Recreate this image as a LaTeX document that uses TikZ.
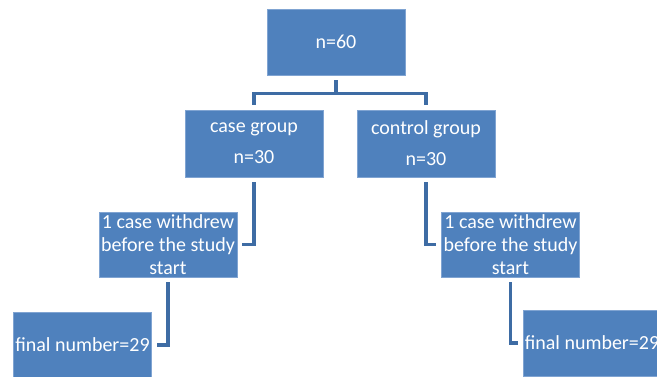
\documentclass[tikz,border=0pt]{standalone}
\usepackage{fontspec}
\setmainfont{Carlito}
\definecolor{boxblue}{RGB}{79,129,189}
\definecolor{boxedge}{RGB}{128,164,210}
\definecolor{linkblue}{RGB}{62,108,164}

\begin{document}
\begin{tikzpicture}[%
      x=1pt, y=-1pt,
      box/.style={fill=boxblue, draw=boxedge, line width=0.6pt,
        minimum width=138pt, minimum height=66pt, inner sep=0pt,
        text=white, align=center, font=\fontsize{20}{23}\selectfont},
      link/.style={draw=linkblue, line width=3.6pt,
        shorten <=5pt, shorten >=5pt},
      ]
      \useasboundingbox (0,0) rectangle (657,376);
      \clip (0,0) rectangle (657,376);

      \node [box] (top) at (336,42) {n=60};
      \node [box, minimum height=67pt] (case) at (254,143.5) {case group\\[8pt]n=30};
      \node [box, minimum height=67pt] (control) at (426,143.5) {control group\\[8pt]n=30};
      \node [box, minimum height=65pt] (wdcase) at (168,244.5)
            {1 case withdrew\\before the study\\start};
      \node [box, minimum height=65pt] (wdcontrol) at (510.5,244.5)
            {1 case withdrew\\before the study\\start};
      \node [box] (fincase) at (82.5,345) {final number=29};
      \node [box] (fincontrol) at (592,343) {final number=29};

      \draw [link] (top.south) -- ++(0,18) -| (case.north);
      \draw [link] (top.south) -- ++(0,18) -| (control.north);
      \draw [link] (case.south) |- (wdcase.east);
      \draw [link] (control.south) |- (wdcontrol.west);
      \draw [link] (wdcase.south) |- (fincase.east);
      \draw [link] (wdcontrol.south) |- (fincontrol.west);
\end{tikzpicture}
\end{document}
